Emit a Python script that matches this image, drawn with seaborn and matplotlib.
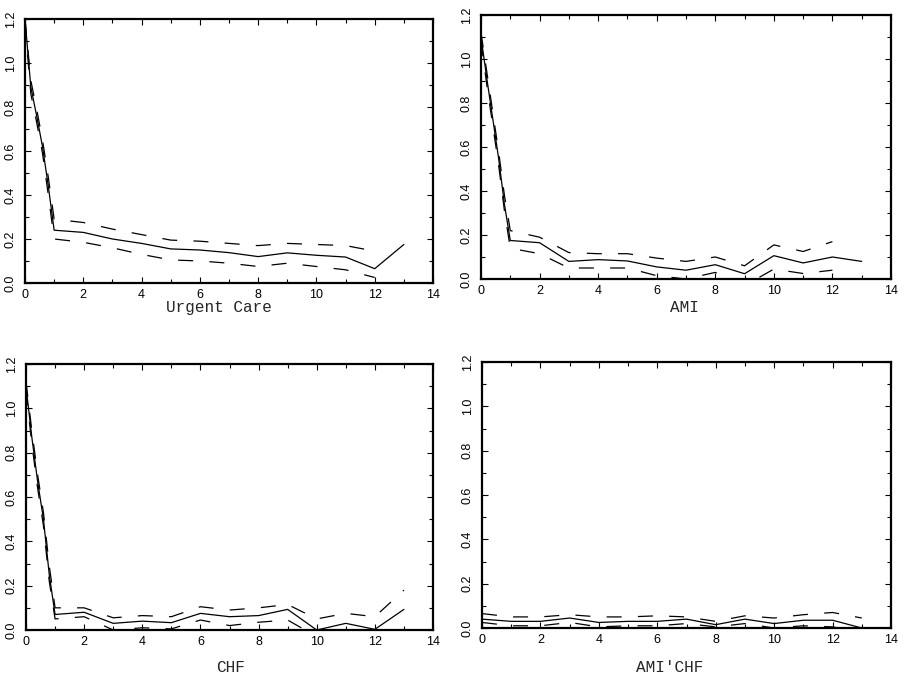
import seaborn as sns
import matplotlib.pyplot as plt
from matplotlib.ticker import MultipleLocator

# Time points (weeks) - fine grid over the first unit, then integers
x_fine = [0, 0.2, 0.4, 0.6, 0.8, 1, 2, 3, 4, 5, 6, 7, 8, 9, 10, 11, 12, 13]
x_int = [0, 1, 2, 3, 4, 5, 6, 7, 8, 9, 10, 11, 12, 13]

# Urgent Care
uc_est = [1.2, 0.89, 0.76, 0.62, 0.44, 0.24, 0.23, 0.20, 0.18, 0.155, 0.15, 0.138, 0.12, 0.137, 0.126, 0.118, 0.065, 0.175]
uc_hi = [1.2, 0.92, 0.79, 0.65, 0.48, 0.29, 0.275, 0.245, 0.22, 0.195, 0.19, 0.18, 0.17, 0.18, 0.175, 0.17, 0.145]
uc_lo = [1.18, 0.86, 0.73, 0.59, 0.40, 0.2, 0.185, 0.16, 0.13, 0.105, 0.1, 0.09, 0.075, 0.09, 0.075, 0.06, 0.025]

# AMI
ami_est = [1.1, 0.91, 0.73, 0.55, 0.34, 0.175, 0.165, 0.08, 0.088, 0.082, 0.055, 0.04, 0.065, 0.024, 0.106, 0.073, 0.1, 0.08]
ami_hi = [1.12, 0.94, 0.76, 0.58, 0.38, 0.22, 0.19, 0.12, 0.115, 0.115, 0.095, 0.08, 0.1, 0.06, 0.155, 0.125, 0.17]
ami_lo = [1.08, 0.88, 0.70, 0.52, 0.31, 0.14, 0.115, 0.05, 0.05, 0.05, 0.015, 0.0, 0.03, -0.03, 0.045, 0.025, 0.04]

# CHF
chf_est = [1.1, 0.87, 0.67, 0.5, 0.25, 0.07, 0.08, 0.03, 0.04, 0.033, 0.075, 0.06, 0.065, 0.093, 0.0, 0.03, 0.003, 0.093]
chf_hi = [1.12, 0.9, 0.7, 0.53, 0.29, 0.1, 0.1, 0.055, 0.065, 0.06, 0.105, 0.09, 0.1, 0.115, 0.05, 0.075, 0.06, 0.18]
chf_lo = [1.08, 0.84, 0.64, 0.47, 0.22, 0.05, 0.06, 0.0, 0.01, 0.005, 0.045, 0.02, 0.035, 0.045, -0.03, 0.0, -0.03, 0.02]

# AMI'CHF
ac_est = [0.04, 0.03, 0.03, 0.045, 0.025, 0.03, 0.03, 0.04, 0.015, 0.04, 0.02, 0.035, 0.035, 0.0]
ac_hi = [0.065, 0.05, 0.05, 0.06, 0.05, 0.05, 0.055, 0.05, 0.03, 0.055, 0.045, 0.06, 0.07, 0.045]
ac_lo = [0.025, 0.01, 0.01, 0.025, 0.005, 0.01, 0.01, 0.02, 0.005, 0.02, 0.0, 0.01, 0.005, -0.02]

panel_names = ["Urgent Care", "AMI", "CHF", "AMI'CHF"]

sns.set_style("ticks", {"xtick.direction": "in", "ytick.direction": "in"})
plt.rcParams['font.family'] = ['Liberation Sans', 'DejaVu Sans']

fig = plt.figure(figsize=(9.06, 6.82), dpi=100)
W, H = 906, 682

# axes boxes in pixels: left, top, right, bottom
boxes = [(25, 19, 433, 283), (481, 15, 891, 279), (26, 364, 433, 630), (482, 362, 891, 628)]
panels = [
    (x_fine, uc_est, x_fine[:17], uc_hi, uc_lo),
    (x_fine, ami_est, x_fine[:17], ami_hi, ami_lo),
    (x_fine, chf_est, x_fine, chf_hi, chf_lo),
    (x_int, ac_est, x_int, ac_hi, ac_lo),
]
label_pos = [(219, 307), (684, 307), (231, 667), (670, 667)]

dash = (0, (12, 13))
for (l, t, r, b), (x, est, xb, hi, lo), name, (lx, ly) in zip(boxes, panels, panel_names, label_pos):
    ax = fig.add_axes([l / W, 1 - b / H, (r - l) / W, (b - t) / H])
    sns.lineplot(x=x, y=est, ax=ax, color='black', lw=0.9)
    sns.lineplot(x=xb, y=hi, ax=ax, color='black', lw=0.9, linestyle=dash)
    sns.lineplot(x=xb, y=lo, ax=ax, color='black', lw=0.9, linestyle=dash)

    ax.set_xlim(0, 14)
    ax.set_ylim(0, 1.2)
    ax.xaxis.set_major_locator(MultipleLocator(2))
    ax.xaxis.set_minor_locator(MultipleLocator(1))
    ax.yaxis.set_major_locator(MultipleLocator(0.2))
    ax.yaxis.set_minor_locator(MultipleLocator(0.1))
    ax.set_yticks([0, 0.2, 0.4, 0.6, 0.8, 1.0, 1.2])
    ax.set_yticklabels(['0.0', '0.2', '0.4', '0.6', '0.8', '1.0', '1.2'], rotation=90, va='center')
    ax.tick_params(which='both', direction='in', top=True, right=True, labelsize=9, width=0.8, colors='black')
    ax.tick_params(which='major', length=4)
    ax.tick_params(which='minor', length=3)
    ax.tick_params(axis='y', pad=6)
    ax.tick_params(axis='x', pad=4)
    for s in ax.spines.values():
        s.set_linewidth(1.6)
        s.set_color('black')
    ax.set_xlabel('')
    ax.set_ylabel('')
    fig.text(lx / W, 1 - ly / H, name, ha='center', va='center', fontsize=11.5,
             family=['Liberation Mono', 'DejaVu Sans Mono'])

fig.savefig('out.png', dpi=100)
